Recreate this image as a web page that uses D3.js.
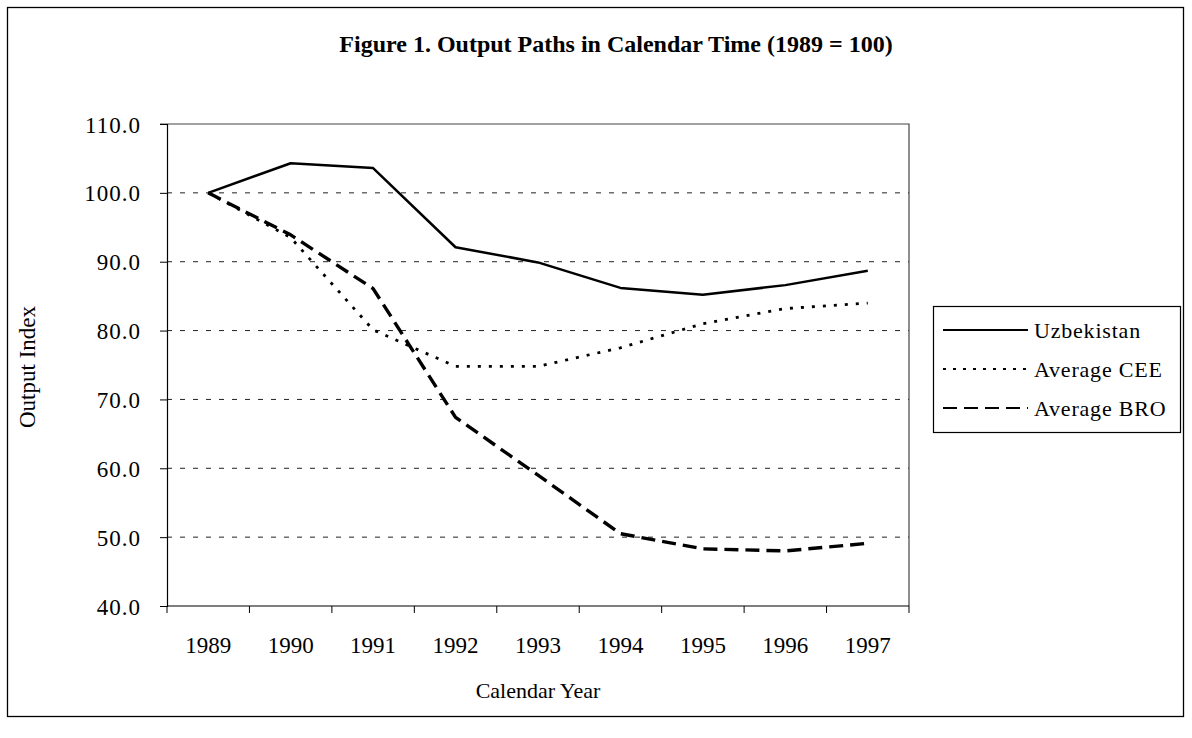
<!DOCTYPE html>
<html lang="en">
    <head>
       <meta charset="utf-8">
       <script src="https://d3js.org/d3.v7.min.js"></script>
       <style>
           body { margin: 0; background: #fff; }
           text { font-family: "Liberation Serif", "Times New Roman", serif; fill: #000; }
       </style>
    </head>
    <body>

        <script>
            var width  = 1192;
            var height = 738;

            // chart data
            var years = ["1989", "1990", "1991", "1992", "1993", "1994", "1995", "1996", "1997"];
            var uzbekistan = [100.0, 104.3, 103.6, 92.1, 89.9, 86.2, 85.2, 86.6, 88.7];
            var averageCEE = [100.0, 93.5, 80.1, 74.8, 74.8, 77.5, 81.0, 83.2, 84.0];
            var averageBRO = [100.0, 93.9, 86.1, 67.4, 59.0, 50.5, 48.3, 48.0, 49.1];
            var yTicks = [40, 50, 60, 70, 80, 90, 100, 110];
            var seriesNames = ["Uzbekistan", "Average CEE", "Average BRO"];

            var plot = {left: 167, right: 909, top: 124, bottom: 606};

            var series = [
                {name: seriesNames[0], values: uzbekistan, width: 2.5, dash: null, legendDash: null},
                {name: seriesNames[1], values: averageCEE, width: 2.8, dash: "3,8", legendDash: "3,7"},
                {name: seriesNames[2], values: averageBRO, width: 3.4, dash: "14,7", legendDash: "14,7"}
            ];

            // setup the canvas
            var svg = d3.select("body")
                        .append("svg")
                        .attr("width", width)
                        .attr("height", height);

            // outer frame
            svg.append("rect")
               .attr("x", 7.5).attr("y", 7.5)
               .attr("width", 1176).attr("height", 709)
               .attr("fill", "none").attr("stroke", "#000").attr("stroke-width", 1.3);

            svg.append("text")
               .attr("x", 616).attr("y", 52)
               .attr("text-anchor", "middle")
               .style("font-size", "24px").style("font-weight", "bold")
               .text("Figure 1. Output Paths in Calendar Time (1989 = 100)");

            var x = d3.scaleBand().domain(years).range([plot.left, plot.right]);
            var y = d3.scaleLinear().domain([40, 110]).range([plot.bottom, plot.top]);

            // gridlines
            svg.append("g").selectAll("line")
               .data(yTicks.filter(function(d) { return d > 40 && d < 110; }))
               .enter().append("line")
               .attr("x1", plot.left).attr("x2", plot.right)
               .attr("y1", function(d) { return y(d); })
               .attr("y2", function(d) { return y(d); })
               .attr("stroke", "#222").attr("stroke-width", 1)
               .attr("stroke-dasharray", "5,8");

            // plot area border (top and right)
            svg.append("path")
               .attr("d", "M" + (plot.left - 7) + "," + plot.top + "H" + plot.right + "V" + plot.bottom)
               .attr("fill", "none").attr("stroke", "#444").attr("stroke-width", 1.2);

            // y axis
            var yAxis = svg.append("g")
               .attr("transform", "translate(" + plot.left + ",0)")
               .call(d3.axisLeft(y).tickValues(yTicks).tickSize(7).tickPadding(19)
                       .tickFormat(d3.format(".1f")));
            yAxis.selectAll("text")
               .style("font-size", "23px")
               .style("letter-spacing", "1px")
               .attr("dy", "0.35em");
            yAxis.select(".domain").attr("stroke-width", 1.2);

            // x axis, ticks sit between the categories
            var xAxis = svg.append("g")
               .attr("transform", "translate(0," + plot.bottom + ")");
            xAxis.append("line")
               .attr("x1", plot.left).attr("x2", plot.right)
               .attr("stroke", "#000").attr("stroke-width", 1.2);
            xAxis.selectAll(".tick")
               .data(years.concat(["end"]))
               .enter().append("line")
               .attr("x1", function(d, i) { return plot.left + i * x.bandwidth(); })
               .attr("x2", function(d, i) { return plot.left + i * x.bandwidth(); })
               .attr("y1", 0).attr("y2", 7)
               .attr("stroke", "#000");
            xAxis.selectAll("text")
               .data(years)
               .enter().append("text")
               .attr("x", function(d) { return x(d) + x.bandwidth() / 2; })
               .attr("y", 47)
               .attr("text-anchor", "middle")
               .style("font-size", "23px")
               .text(function(d) { return d; });

            svg.append("text")
               .attr("x", (plot.left + plot.right) / 2).attr("y", 698)
               .attr("text-anchor", "middle")
               .style("font-size", "22px")
               .text("Calendar Year");

            svg.append("text")
               .attr("transform", "translate(35," + 367 + ") rotate(-90)")
               .attr("text-anchor", "middle")
               .style("font-size", "23px")
               .text("Output Index");

            // lines
            var line = d3.line()
                .x(function(d, i) { return x(years[i]) + x.bandwidth() / 2; })
                .y(function(d) { return y(d); });

            svg.append("g").selectAll("path")
               .data(series)
               .enter().append("path")
               .attr("d", function(s) { return line(s.values); })
               .attr("fill", "none")
               .attr("stroke", "#000")
               .attr("stroke-width", function(s) { return s.width; })
               .attr("stroke-dasharray", function(s) { return s.dash; })
               .attr("stroke-linejoin", "round");

            // legend
            var legend = svg.append("g");
            legend.append("rect")
               .attr("x", 933.5).attr("y", 306.5)
               .attr("width", 247).attr("height", 126)
               .attr("fill", "#fff").attr("stroke", "#000").attr("stroke-width", 1.2);
            var items = legend.selectAll("g.item")
               .data(series)
               .enter().append("g")
               .attr("transform", function(s, i) { return "translate(0," + (330 + i * 39) + ")"; });
            items.append("line")
               .attr("x1", 943).attr("x2", 1028)
               .attr("stroke", "#000")
               .attr("stroke-width", 2)
               .attr("stroke-dasharray", function(s) { return s.legendDash; });
            items.append("text")
               .attr("x", 1034).attr("y", 0).attr("dy", "0.35em")
               .style("font-size", "22px")
               .style("letter-spacing", "0.8px")
               .text(function(s) { return s.name; });

        </script>

    </body>
</html>
